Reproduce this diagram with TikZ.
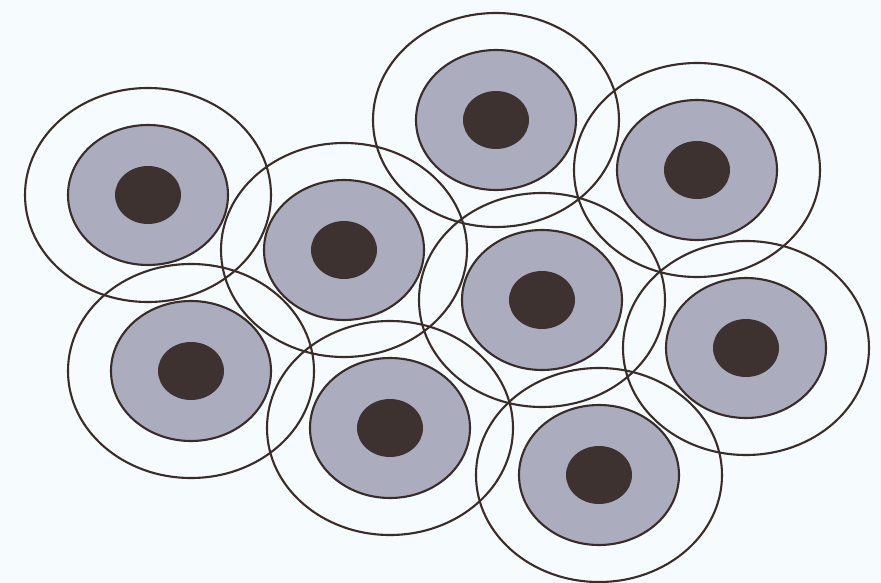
\documentclass[tikz,border=0pt]{standalone}
\definecolor{paper}{HTML}{F6FBFD}
\definecolor{cyto}{HTML}{ACACBF}
\definecolor{nucl}{HTML}{3E3231}
\definecolor{edge}{HTML}{3A2C29}
\tikzset{
  cellwall/.style={draw=edge, line width=2.1pt},
  cytoplasm/.style={fill=cyto, draw=edge, line width=2.1pt},
  nucleus/.style={fill=nucl},
}
\begin{document}
\begin{tikzpicture}[x=1pt,y=-1pt]
\fill[paper] (0,0) rectangle (881,583);
\useasboundingbox (0,0) rectangle (881,583);
\def\cells{148/195, 496/120, 697/170, 344/250, 542/300, 746/348, 191/371, 390/428, 599/475}
% outer cell walls
\foreach \cx/\cy in \cells {
  \draw[cellwall] (\cx,\cy) ellipse [x radius=123, y radius=107];
}
% cytoplasm
\foreach \cx/\cy in \cells {
  \draw[cytoplasm] (\cx,\cy) ellipse [x radius=80, y radius=70];
}
% nuclei
\foreach \cx/\cy in \cells {
  \fill[nucleus] (\cx,\cy) ellipse [x radius=33, y radius=29];
}
\end{tikzpicture}
\end{document}
